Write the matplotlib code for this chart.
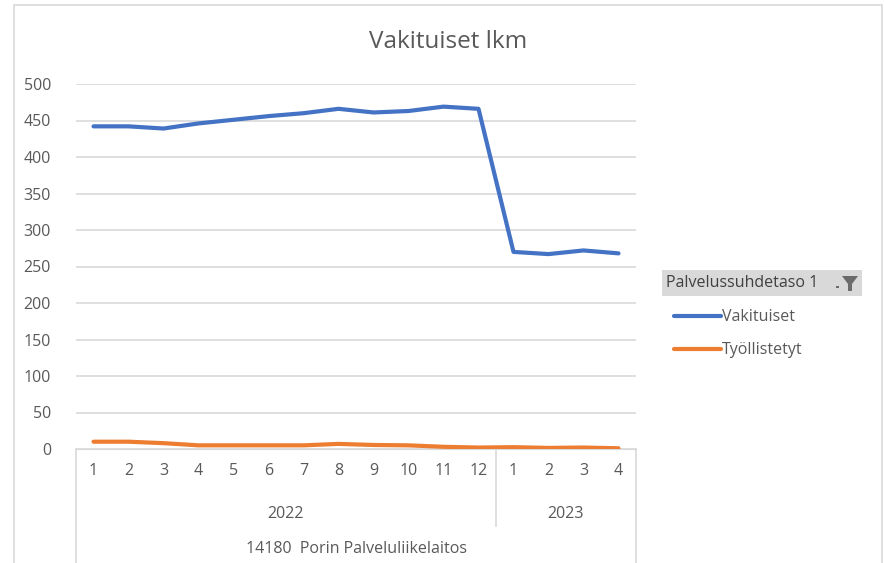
import matplotlib.pyplot as plt
import matplotlib.transforms as mtransforms
from matplotlib.patches import Rectangle, Polygon

plt.rcParams['font.family'] = ['Open Sans', 'DejaVu Sans']

# data
months = ['1', '2', '3', '4', '5', '6', '7', '8', '9', '10', '11', '12', '1', '2', '3', '4']
years = ['2022', '2023']
year_counts = [12, 4]
unit = '14180  Porin Palveluliikelaitos'
vakituiset = [442, 442, 439, 446, 451, 456, 460, 466, 461, 463, 469, 466, 270, 267, 272, 268]
tyollistetyt = [10, 10, 8, 5, 5, 5, 5, 7, 5.5, 5, 3, 2, 2.5, 1.5, 2, 1]

txt = '#595959'
grid = '#d9d9d9'
fs = 11.5

fig = plt.figure(figsize=(8.84, 5.63), dpi=100)
W, H = 884, 563
ax = fig.add_axes([76 / W, 1 - 449 / H, 560 / W, 365 / H])

x = list(range(len(months)))
ax.plot(x, vakituiset, color='#4472C4', lw=3.0, solid_capstyle='round', label='Vakituiset', zorder=3)
ax.plot(x, tyollistetyt, color='#ED7D31', lw=3.0, solid_capstyle='round', label='Työllistetyt', zorder=3)

ax.set_xlim(-0.5, len(months) - 0.5)
ax.set_ylim(0, 500)
ax.set_yticks(range(0, 501, 50))
ax.yaxis.grid(True, color=grid, lw=1.2)
ax.set_axisbelow(True)
for s in ['top', 'right', 'left']:
    ax.spines[s].set_visible(False)
ax.spines['bottom'].set_color(grid)
ax.tick_params(axis='y', length=0, pad=18, labelsize=fs, labelcolor=txt)
ax.tick_params(axis='x', length=0, labelbottom=False)

# multi-level category axis
tr = mtransforms.blended_transform_factory(ax.transData, fig.transFigure)
def fy(py):
    return 1 - py / H

for i, m in enumerate(months):
    ax.text(i, fy(471), m, transform=tr, ha='center', va='center', fontsize=fs, color=txt)

start = 0
for yr, n in zip(years, year_counts):
    ax.text(start + (n - 1) / 2, fy(514), yr, transform=tr, ha='center', va='center', fontsize=fs, color=txt)
    start += n
ax.text((len(months) - 1) / 2, fy(549), unit, transform=tr, ha='center', va='center', fontsize=fs, color=txt)

ax.plot([-0.5, -0.5], [fy(449), 0], transform=tr, color=grid, lw=1.2, clip_on=False)
ax.plot([len(months) - 0.5] * 2, [fy(449), 0], transform=tr, color=grid, lw=1.2, clip_on=False)
ax.plot([year_counts[0] - 0.5] * 2, [fy(449), fy(526)], transform=tr, color=grid, lw=1.2, clip_on=False)

# title
fig.text(448 / W, fy(42), 'Vakituiset lkm', ha='center', va='center', fontsize=17.5, color=txt)

# outer chart frame
fig.add_artist(Rectangle((14 / W, -0.01), (882 - 14) / W, fy(5) + 0.01, transform=fig.transFigure,
                         fill=False, edgecolor='#d9d9d9', lw=1.2))

# legend header with filter icon
fig.add_artist(Rectangle((662 / W, fy(296)), 200 / W, 26 / H, transform=fig.transFigure,
                         facecolor='#d9d9d9', edgecolor='none'))
fig.text(666 / W, fy(283), 'Palvelussuhdetaso 1', ha='left', va='center', fontsize=fs, color='#404040')
fig.add_artist(Polygon([[842 / W, fy(276)], [858 / W, fy(276)], [852 / W, fy(284)], [848 / W, fy(284)]],
                       closed=True, transform=fig.transFigure, facecolor='#6b6b6b', edgecolor='none'))
fig.add_artist(Rectangle((848 / W, fy(291)), 4 / W, 7 / H, transform=fig.transFigure,
                         facecolor='#6b6b6b', edgecolor='none'))
fig.add_artist(Rectangle((836 / W, fy(288)), 3 / W, 2 / H, transform=fig.transFigure,
                         facecolor='#6b6b6b', edgecolor='none'))

leg = ax.legend(loc='upper left', bbox_to_anchor=(660 / W, fy(295)), bbox_transform=fig.transFigure,
                frameon=False, fontsize=fs, handlelength=2.9, handletextpad=0.1, labelspacing=1.05,
                labelcolor=txt)

fig.savefig('out.png', dpi=100)
